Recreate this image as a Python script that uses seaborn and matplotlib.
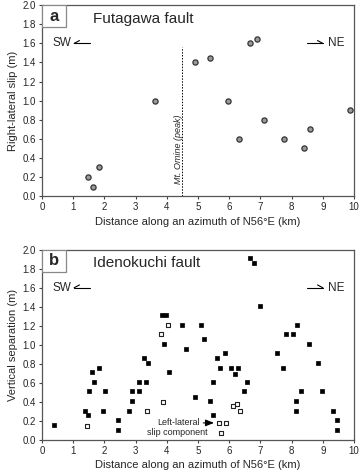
import pandas as pd
import seaborn as sns
import matplotlib
matplotlib.use("Agg")
import matplotlib.pyplot as plt
from matplotlib.patches import Rectangle

sns.set_style("ticks")
plt.rcParams['font.family'] = ['Liberation Sans', 'DejaVu Sans']

# panel a - Futagawa fault, right-lateral slip
futa_x = [1.46, 1.62, 1.84, 3.61, 4.89, 5.38, 5.97, 6.30, 6.66, 6.88, 7.13, 7.77, 8.40, 8.58, 9.87]
futa_slip = [0.20, 0.10, 0.31, 1.00, 1.40, 1.45, 1.00, 0.60, 1.60, 1.65, 0.80, 0.60, 0.50, 0.70, 0.90]

# panel b - Idenokuchi fault, vertical separation (filled)
ide_x = [0.38, 1.37, 1.48, 1.51, 1.60, 1.68, 1.83, 1.94, 2.03, 2.42, 2.42, 2.79, 2.89, 2.89,
         3.11, 3.11, 3.28, 3.34, 3.39, 3.86, 3.97, 3.90, 4.08, 4.50, 4.61, 4.91, 5.09, 5.19,
         5.38, 5.47, 5.49, 5.60, 5.69, 5.85, 6.05, 6.19, 6.27, 6.47, 6.56, 6.66, 6.79, 6.98,
         7.52, 7.73, 7.81, 8.05, 8.17, 8.13, 8.13, 8.31, 8.56, 8.86, 8.96, 9.34, 9.45, 9.45]
ide_vert = [0.16, 0.31, 0.26, 0.51, 0.71, 0.61, 0.76, 0.31, 0.51, 0.21, 0.10, 0.31, 0.41, 0.51,
            0.61, 0.51, 0.86, 0.61, 0.81, 1.31, 1.31, 1.01, 0.71, 1.21, 0.96, 0.45, 1.21, 1.06,
            0.41, 0.26, 0.61, 0.86, 0.76, 0.91, 0.76, 0.69, 0.76, 0.51, 0.61, 1.91, 1.86, 1.41,
            0.91, 0.76, 1.11, 1.11, 1.21, 0.41, 0.31, 0.51, 1.01, 0.81, 0.51, 0.31, 0.21, 0.10]

# left-lateral slip component (open squares)
left_x = [1.44, 3.35, 3.80, 3.89, 4.03, 5.68, 5.74, 5.91, 6.11, 6.25, 6.34]
left_slip = [0.15, 0.30, 1.11, 0.40, 1.21, 0.18, 0.07, 0.18, 0.36, 0.375, 0.30]

peak_x = 4.48
xticks = list(range(0, 11))
yticks = [0.0, 0.2, 0.4, 0.6, 0.8, 1.0, 1.2, 1.4, 1.6, 1.8, 2.0]

dfa = pd.DataFrame({'x': futa_x, 'y': futa_slip})
dfb = pd.DataFrame({'x': ide_x, 'y': ide_vert})
dfl = pd.DataFrame({'x': left_x, 'y': left_slip})

fig = plt.figure(figsize=(3.6, 4.76), dpi=100)
ax1 = fig.add_axes([0.1167, 0.588, 0.8667, 0.401])
ax2 = fig.add_axes([0.1167, 0.0756, 0.8667, 0.3998])

sns.scatterplot(data=dfa, x='x', y='y', ax=ax1, marker='o', s=14,
                color='#9a9a9a', edgecolor='#333333', linewidth=0.9, zorder=3)
sns.scatterplot(data=dfb, x='x', y='y', ax=ax2, marker='s', s=12,
                color='black', edgecolor='black', linewidth=0.5, zorder=3)
sns.scatterplot(data=dfl, x='x', y='y', ax=ax2, marker='s', s=12,
                color='white', edgecolor='#222222', linewidth=0.8, zorder=3)

for ax, ylab, letter, name in [(ax1, 'Right-lateral slip (m)', 'a', 'Futagawa fault'),
                               (ax2, 'Vertical separation (m)', 'b', 'Idenokuchi fault')]:
    ax.set_xlim(0, 10)
    ax.set_ylim(0, 2.0)
    ax.set_xticks(xticks)
    ax.set_yticks(yticks)
    ax.set_yticklabels(['%.1f' % v for v in yticks])
    ax.tick_params(labelsize=7, length=2.5, width=0.8, color='#444444', pad=2)
    for sp in ax.spines.values():
        sp.set_visible(True)
        sp.set_color('#555555')
        sp.set_linewidth(0.9)
    ax.set_xlabel('Distance along an azimuth of N56°E (km)', fontsize=8, labelpad=3)
    ax.set_ylabel(ylab, fontsize=8, labelpad=3)
    # letter box in the top-left corner
    ax.add_patch(Rectangle((0, 0.885), 0.077, 0.115, transform=ax.transAxes,
                           fc='white', ec='#888888', lw=0.9, zorder=4))
    ax.text(0.038, 0.942, letter, transform=ax.transAxes, fontsize=12, fontweight='bold',
            ha='center', va='center', zorder=5)
    ax.text(0.163, 0.93, name, transform=ax.transAxes, fontsize=11, ha='left', va='center')
    # direction labels with harpoon arrows
    ax.text(0.035, 0.80, 'SW', transform=ax.transAxes, fontsize=8.5, ha='left', va='center')
    ax.plot([0.103, 0.155], [0.80, 0.80], transform=ax.transAxes, color='black', lw=0.8)
    ax.plot([0.103, 0.120], [0.80, 0.815], transform=ax.transAxes, color='black', lw=0.8)
    ax.text(0.97, 0.80, 'NE', transform=ax.transAxes, fontsize=8.5, ha='right', va='center')
    ax.plot([0.85, 0.90], [0.80, 0.80], transform=ax.transAxes, color='black', lw=0.8)
    ax.plot([0.90, 0.883], [0.80, 0.815], transform=ax.transAxes, color='black', lw=0.8)

# Mt. Omine peak line
ax1.plot([peak_x, peak_x], [0, 1.56], ls=(0, (1.5, 1.5)), color='black', lw=0.7)
ax1.text(peak_x - 0.1, 0.49, 'Mt. Omine (peak)', rotation=90, fontsize=6.5,
         style='italic', ha='center', va='center')

# left-lateral annotation
ax2.annotate('', xy=(5.60, 0.18), xytext=(5.08, 0.18),
             arrowprops=dict(arrowstyle='-|>,head_length=0.5,head_width=0.2', color='black', lw=0.8))
ax2.text(5.05, 0.18, 'Left-lateral', fontsize=6.5, ha='right', va='center')
ax2.text(4.35, 0.077, 'slip component', fontsize=6.5, ha='center', va='center')

fig.savefig('out.png', dpi=100)
